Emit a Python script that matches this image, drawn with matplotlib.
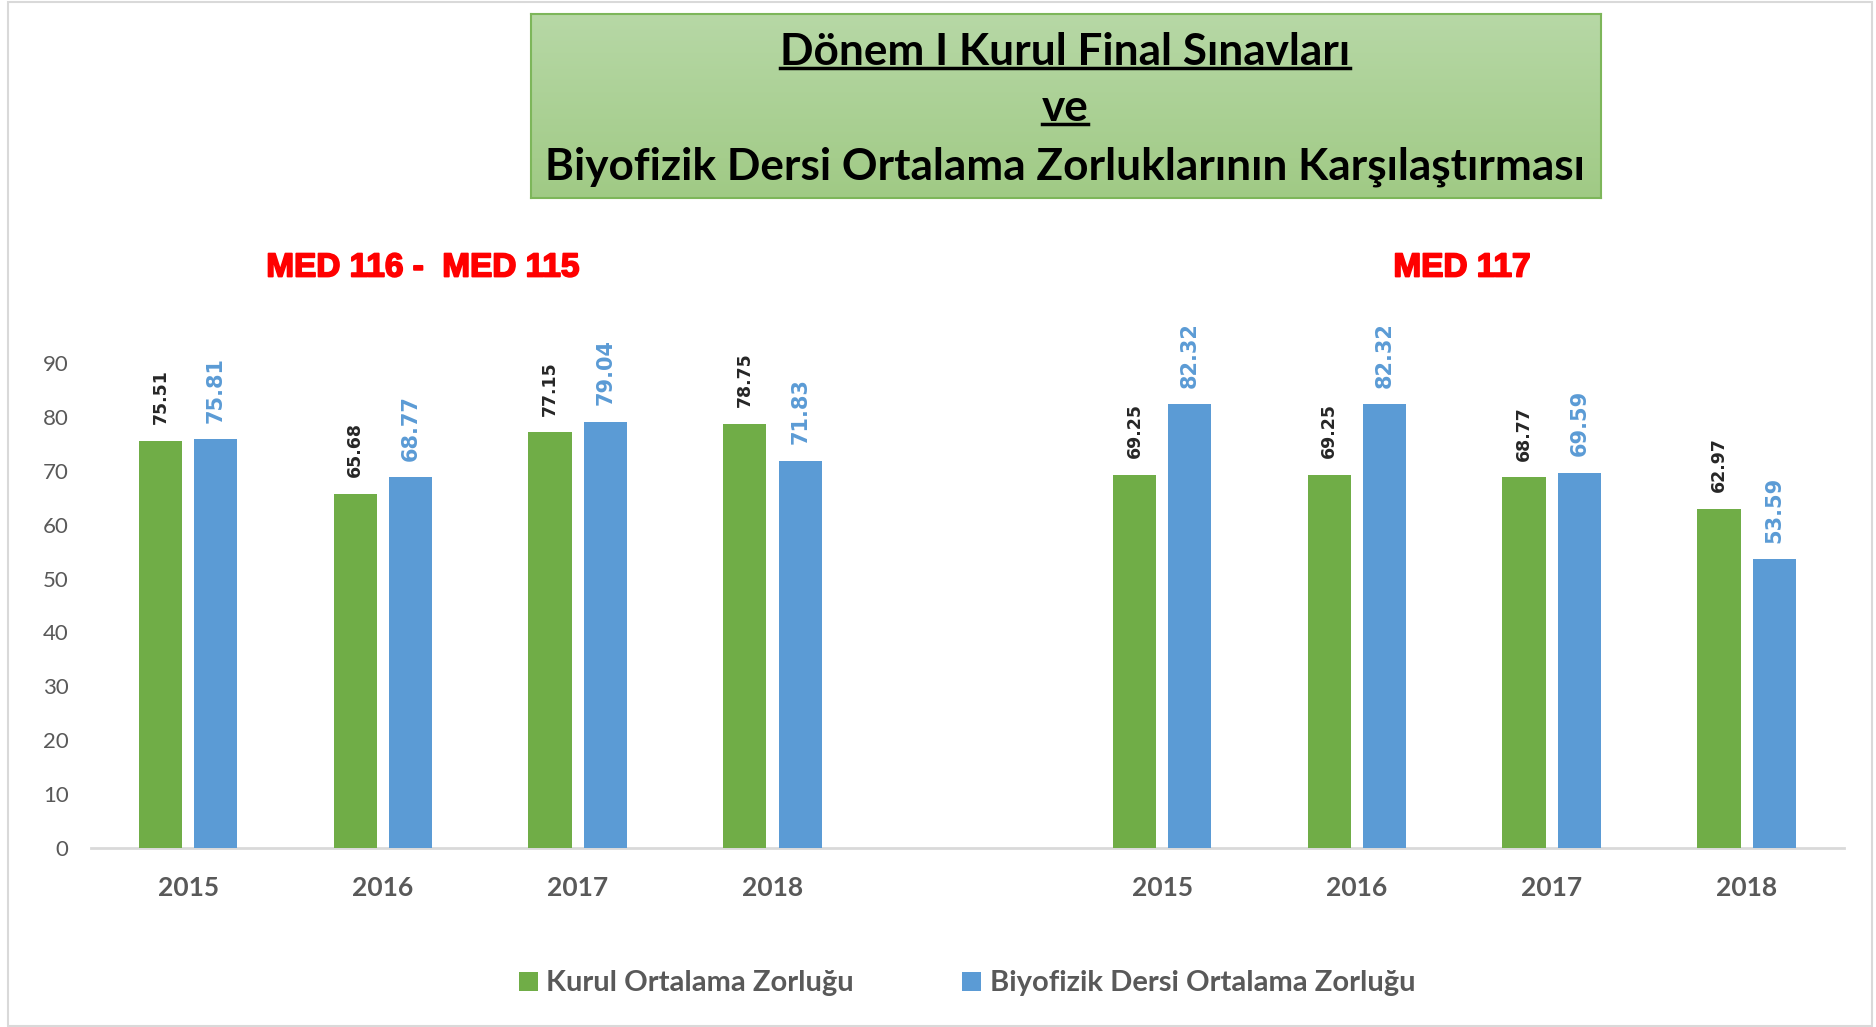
import numpy as np
import matplotlib
matplotlib.use("Agg")
import matplotlib.pyplot as plt
from matplotlib.patches import Rectangle
from matplotlib.lines import Line2D
from matplotlib.colors import LinearSegmentedColormap
import matplotlib.patheffects as pe

# ---- data ----
years = ['2015', '2016', '2017', '2018']
group_labels = ['MED 116 -  MED 115', 'MED 117']
kurul_med116 = [75.51, 65.68, 77.15, 78.75]
biyo_med116 = [75.81, 68.77, 79.04, 71.83]
kurul_med117 = [69.25, 69.25, 68.77, 62.97]
biyo_med117 = [82.32, 82.32, 69.59, 53.59]
series_names = ['Kurul Ortalama Zorluğu', 'Biyofizik Dersi Ortalama Zorluğu']
title_lines = ['Dönem I Kurul Final Sınavları', 've',
               'Biyofizik Dersi Ortalama Zorluklarının Karşılaştırması']
yticks = [0, 10, 20, 30, 40, 50, 60, 70, 80, 90]

GREEN = '#70AD47'
BLUE = '#5B9BD5'
GRAY = '#595959'

W, H = 1876, 1027
fig = plt.figure(figsize=(W / 100, H / 100), dpi=100)
fig.patch.set_facecolor('white')

# figure border
fig.add_artist(Rectangle((8 / W, 1 / H), (1872 - 8) / W, (1025 - 1) / H,
                         transform=fig.transFigure, fill=False,
                         edgecolor='#D9D9D9', lw=1.5))

ax = fig.add_axes([90.7 / W, 1 - 848 / H, (1844 - 90.7) / W, (848 - 363) / H])

pos1 = np.arange(len(years))
pos2 = np.arange(len(years)) + len(years) + 1
positions = np.concatenate([pos1, pos2])
kurul = kurul_med116 + kurul_med117
biyo = biyo_med116 + biyo_med117

bw = 0.222
off = 0.142
ax.bar(positions - off, kurul, width=bw, color=GREEN, label=series_names[0], zorder=3)
ax.bar(positions + off, biyo, width=bw, color=BLUE, label=series_names[1], zorder=3)

for x, v in zip(positions, kurul):
    ax.annotate(f'{v:.2f}', (x - off, v), xytext=(0, 12), textcoords='offset points',
                rotation=90, ha='center', va='bottom', fontsize=12.5,
                fontweight='bold', color='#262626', family='DejaVu Sans',
                annotation_clip=False)
for x, v in zip(positions, biyo):
    ax.annotate(f'{v:.2f}', (x + off, v), xytext=(0, 12), textcoords='offset points',
                rotation=90, ha='center', va='bottom', fontsize=15,
                fontweight='bold', color=BLUE, family='DejaVu Sans',
                annotation_clip=False)

ax.set_xlim(-0.5, positions.max() + 0.5)
ax.set_ylim(0, 90)
ax.set_xticks(positions)
ax.set_xticklabels(years + years, fontsize=19, fontweight='bold', color=GRAY,
                   family='Lato')
ax.set_yticks(yticks)
ax.set_yticklabels([str(t) for t in yticks], fontsize=16, color=GRAY, family='Lato')
ax.tick_params(axis='x', length=0, pad=20)
ax.tick_params(axis='y', length=0, pad=16)
for s in ['top', 'right', 'left']:
    ax.spines[s].set_visible(False)
ax.spines['bottom'].set_color('#D9D9D9')
ax.spines['bottom'].set_linewidth(2)
ax.set_facecolor('none')

# group labels
for gx, lab in zip([423, 1462], group_labels):
    fig.text(gx / W, 1 - 268 / H, lab, ha='center', va='center',
             fontsize=24, fontweight='bold', color='#FF0000', family='Liberation Sans',
             path_effects=[pe.withStroke(linewidth=1.3, foreground='#FF0000')])

# title box with gradient
tax = fig.add_axes([530.5 / W, 1 - 198 / H, (1601 - 530.5) / W, (198 - 14) / H])
grad = np.linspace(0, 1, 256).reshape(-1, 1)
cmap = LinearSegmentedColormap.from_list('g', ['#B7D8A6', '#A0CA85'])
tax.imshow(grad, aspect='auto', cmap=cmap, extent=[0, 1, 0, 1], origin='upper')
tax.set_xlim(0, 1)
tax.set_ylim(0, 1)
tax.set_xticks([])
tax.set_yticks([])
for s in tax.spines.values():
    s.set_color('#7DB65A')
    s.set_linewidth(1.5)

title_y = [52, 108, 167]
title_texts = []
for line, yy in zip(title_lines, title_y):
    t = fig.text(1065 / W, 1 - yy / H, line, ha='center', va='center',
                 fontsize=31.8, fontweight='bold', color='black', family='Lato')
    title_texts.append(t)

# legend
leg = fig.legend(loc='center', bbox_to_anchor=(967 / W, 1 - 983.5 / H), ncol=2,
                 frameon=False, prop={'family': 'Lato', 'weight': 'bold', 'size': 21},
                 handlelength=0.65, handleheight=0.65, handletextpad=0.3,
                 columnspacing=3.7, labelcolor=GRAY)

# underline first two title lines
fig.canvas.draw()
r = fig.canvas.get_renderer()
for t in title_texts[:2]:
    bb = t.get_window_extent(r)
    yline = bb.y0 + 4
    fig.add_artist(Line2D([bb.x0 / W, bb.x1 / W], [yline / H, yline / H],
                          transform=fig.transFigure, color='black', lw=2.5))

fig.savefig('out.png', dpi=100, facecolor='white')
